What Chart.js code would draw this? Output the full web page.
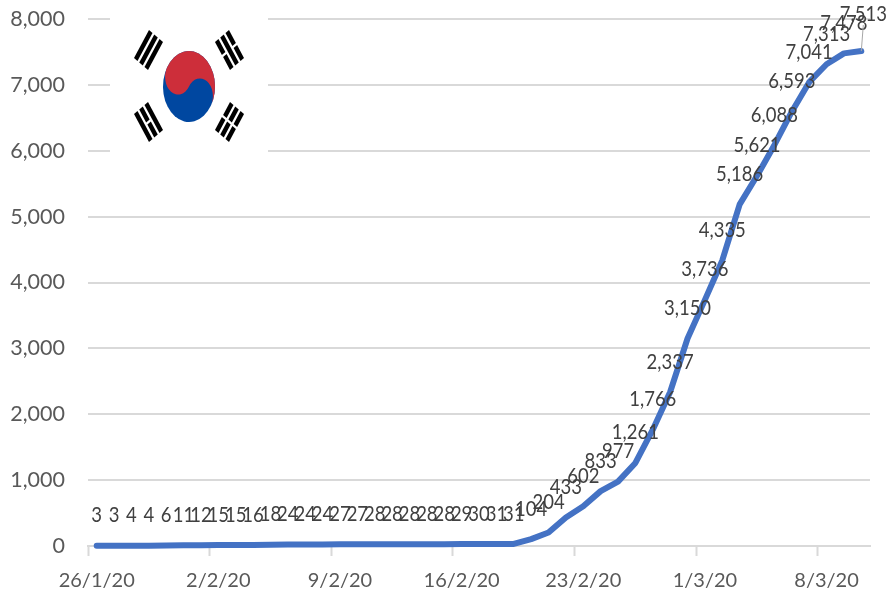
<!DOCTYPE html>
<html>
<head>
<meta charset="utf-8">
<title>Korea cases</title>
<script src="https://cdn.jsdelivr.net/npm/chart.js"></script>
<style>
    html, body { margin: 0; padding: 0; background: #fff; }
    #wrap { position: relative; width: 889px; height: 592px; }
    #flag { position: absolute; left: 110px; top: 0; width: 158px; height: 155px; background: #fff; }
</style>
</head>
<body>
<div id="wrap">
    <canvas id="chart" width="889" height="592"></canvas>
    <svg id="flag" viewBox="110 0 158 155" xmlns="http://www.w3.org/2000/svg"></svg>
</div>
<script>
const dates = [
    '26/1/20','27/1/20','28/1/20','29/1/20','30/1/20','31/1/20','1/2/20',
    '2/2/20','3/2/20','4/2/20','5/2/20','6/2/20','7/2/20','8/2/20',
    '9/2/20','10/2/20','11/2/20','12/2/20','13/2/20','14/2/20','15/2/20',
    '16/2/20','17/2/20','18/2/20','19/2/20','20/2/20','21/2/20','22/2/20',
    '23/2/20','24/2/20','25/2/20','26/2/20','27/2/20','28/2/20','29/2/20',
    '1/3/20','2/3/20','3/3/20','4/3/20','5/3/20','6/3/20','7/3/20',
    '8/3/20','9/3/20','10/3/20'
];
const cases = [
    3, 3, 4, 4, 6, 11, 12, 15, 15, 16, 18, 24, 24, 24, 27, 27, 28, 28, 28, 28, 28, 29, 30, 31, 31,
    104, 204, 433, 602, 833, 977, 1261, 1766, 2337, 3150, 3736, 4335, 5186, 5621, 6088, 6593, 7041, 7313, 7478, 7513
];
const yTicks = [0, 1000, 2000, 3000, 4000, 5000, 6000, 7000, 8000];

const FONT = 'Lato, "Open Sans", sans-serif';
const GRID = '#d9d9d9';

// value labels above the points, the last one gets a leader line
const pointLabels = {
    id: 'pointLabels',
    afterDatasetsDraw(chart) {
        const ctx = chart.ctx;
        const pts = chart.getDatasetMeta(0).data;
        ctx.save();
        ctx.font = '18.5px ' + FONT;
        ctx.fillStyle = '#404040';
        ctx.textAlign = 'center';
        ctx.textBaseline = 'middle';
        pts.forEach((p, i) => {
            const last = i === pts.length - 1;
            if (last) {
                ctx.strokeStyle = '#a6a6a6';
                ctx.lineWidth = 1;
                ctx.beginPath();
                ctx.moveTo(p.x, p.y);
                ctx.lineTo(p.x + 2, p.y - 26);
                ctx.stroke();
            }
            // source picture is a bit stretched vertically
            ctx.save();
            ctx.translate(p.x + (last ? 2 : 0), p.y - (last ? 37 : 30));
            ctx.scale(1, 1.1);
            ctx.fillText(cases[i].toLocaleString('en-US'), 0, 0);
            ctx.restore();
        });
        ctx.restore();
    }
};

new Chart(document.getElementById('chart').getContext('2d'), {
    type: 'line',
    data: {
        labels: dates,
        datasets: [{
            data: cases,
            borderColor: '#4472c4',
            borderWidth: 6,
            borderCapStyle: 'round',
            borderJoinStyle: 'round',
            pointRadius: 0,
            tension: 0,
            clip: false
        }]
    },
    options: {
        responsive: false,
        animation: false,
        layout: { padding: { top: 19, right: 19, left: 0, bottom: 0 } },
        plugins: { legend: { display: false }, tooltip: { enabled: false } },
        scales: {
            x: {
                offset: true,
                border: { color: GRID, width: 2 },
                grid: {
                    offset: true,
                    drawOnChartArea: false,
                    tickLength: 10,
                    tickWidth: 2,
                    tickColor: c => (c.index % 7 === 0 ? GRID : 'rgba(0,0,0,0)')
                },
                ticks: {
                    autoSkip: false,
                    maxRotation: 0,
                    padding: 13,
                    color: '#595959',
                    font: { family: FONT, size: 20 },
                    callback(v, i) { return i % 7 === 0 ? dates[i] : ''; }
                },
                afterFit(s) { s.height = 46; }
            },
            y: {
                min: 0,
                max: 8000,
                afterBuildTicks(s) { s.ticks = yTicks.map(v => ({ value: v })); },
                border: { display: false },
                grid: { color: GRID, lineWidth: 2, drawTicks: false },
                ticks: {
                    padding: 23,
                    color: '#595959',
                    font: { family: FONT, size: 21.5 },
                    callback: v => v.toLocaleString('en-US')
                },
                // tick padding also eats room above the axis, drop that
                afterFit(s) { s.width = 88; s.paddingTop = 0; s.paddingBottom = 0; }
            }
        }
    },
    plugins: [pointLabels]
});

// flag picture pasted over the grid, white box included
const NS = 'http://www.w3.org/2000/svg';
const svg = document.getElementById('flag');
function add(parent, tag, attrs) {
    const el = document.createElementNS(NS, tag);
    Object.keys(attrs).forEach(k => el.setAttribute(k, attrs[k]));
    parent.appendChild(el);
    return el;
}
const taeguk = add(svg, 'g', { transform: 'translate(189 86.5) scale(26 35.5) rotate(33)' });
add(taeguk, 'circle', { cx: 0, cy: 0, r: 1, fill: '#0047a0' });
add(taeguk, 'path', { d: 'M-1 0A1 1 0 0 1 1 0A.5 .5 0 0 0 0 0A.5 .5 0 0 1 -1 0Z', fill: '#cd2e3a' });

// trigram: [origin x, origin y, long axis x, y, across x, y, bars]
// bars run from the flag's centre side to the outer side, 1 = solid, 0 = broken
const trigrams = [
    [149, 30, -15, 28, 14, 12, [1, 1, 1]],
    [229, 30, 15, 28, -14, 12, [0, 1, 0]],
    [149, 142, -15, -28, 14, -12, [1, 0, 1]],
    [229, 142, 15, -28, -14, -12, [0, 0, 0]]
];
trigrams.forEach(t => {
    const g = add(svg, 'g', { transform: `matrix(${t[2]} ${t[3]} ${t[4]} ${t[5]} ${t[0]} ${t[1]})` });
    t[6].forEach((solid, i) => {
        const v = i * 0.375;
        if (solid) {
            add(g, 'rect', { x: 0, y: v, width: 1, height: 0.25 });
        } else {
            add(g, 'rect', { x: 0, y: v, width: 0.46, height: 0.25 });
            add(g, 'rect', { x: 0.54, y: v, width: 0.46, height: 0.25 });
        }
    });
});
</script>
</body>
</html>
